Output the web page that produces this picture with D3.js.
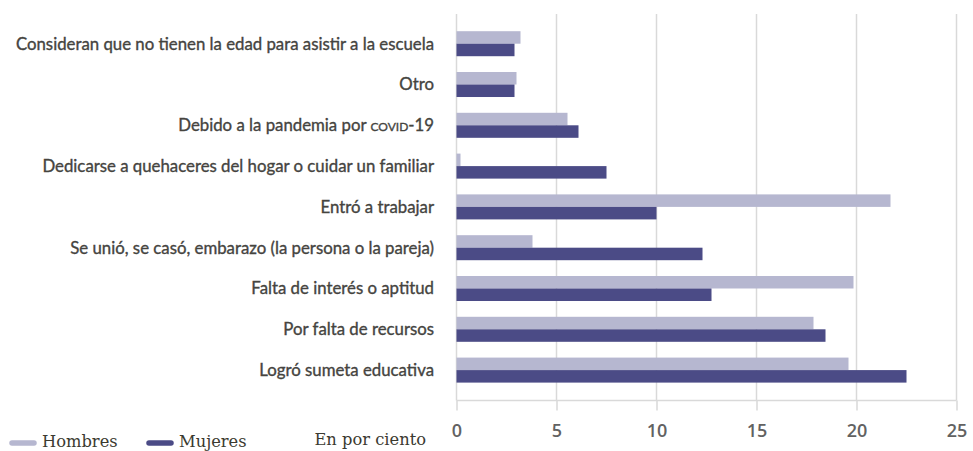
<!DOCTYPE html>
<html>
<head>
<meta charset="utf-8">
<script src="https://cdn.jsdelivr.net/npm/d3@7"></script>
<style>
  body { margin: 0; background: #fff; }
  .cat-label { font-family: Lato, sans-serif; font-size: 16.8px; fill: #45443f; stroke: #45443f; stroke-width: 0.35px; }
  .x.axis text { font-family: "Open Sans", sans-serif; font-size: 18px; font-weight: 600; fill: #626262; }
  .legend text { font-family: "DejaVu Serif", serif; font-size: 16.3px; fill: #3b3a30; }
</style>
</head>
<body>
<div id="chart-area"><svg></svg></div>
<script>
const CHART_SIZE = { width: 973, height: 451 };

const categories = [
  "Consideran que no tienen la edad para asistir a la escuela",
  "Otro",
  "Debido a la pandemia por covid-19",
  "Dedicarse a quehaceres del hogar o cuidar un familiar",
  "Entró a trabajar",
  "Se unió, se casó, embarazo (la persona o la pareja)",
  "Falta de interés o aptitud",
  "Por falta de recursos",
  "Logró sumeta educativa"
];
const hombres = [3.2, 3.0, 5.55, 0.2, 21.7, 3.8, 19.85, 17.85, 19.6];
const mujeres = [2.9, 2.9, 6.1, 7.5, 10.0, 12.3, 12.75, 18.45, 22.5];
const ticks = [0, 5, 10, 15, 20, 25];
const series = ["Hombres", "Mujeres"];
const colors = ["#b6b7d0", "#4b4b86"];

const rows = categories.map((c, i) => ({ name: c, values: [hombres[i], mujeres[i]] }));

const svg = d3.select("#chart-area svg")
  .attr("width", CHART_SIZE.width)
  .attr("height", CHART_SIZE.height);

const x = d3.scaleLinear().domain([0, 25]).range([456.5, 956.5]);
const y = d3.scaleBand().domain(categories).range([31.2, 382.6])
  .paddingInner(0.387).paddingOuter(0);
const ySub = d3.scaleBand().domain(series).range([0, y.bandwidth()]);
const color = d3.scaleOrdinal().domain(series).range(colors);

const GRID_TOP = 14, AXIS_Y = 400.5;

// vertical gridlines
svg.append("g")
  .attr("class", "grid")
  .selectAll("line")
  .data(ticks)
  .join("line")
  .attr("x1", d => x(d)).attr("x2", d => x(d))
  .attr("y1", GRID_TOP).attr("y2", AXIS_Y)
  .attr("stroke", "#d9d9d9")
  .attr("stroke-width", 1.5);

// bars
const groups = svg.append("g")
  .attr("class", "bars")
  .selectAll("g")
  .data(rows)
  .join("g")
  .attr("transform", d => `translate(0,${y(d.name)})`);

groups.selectAll("rect")
  .data(d => d.values.map((v, i) => ({ key: series[i], value: v })))
  .join("rect")
  .attr("x", x(0))
  .attr("y", d => ySub(d.key))
  .attr("width", d => x(d.value) - x(0))
  .attr("height", ySub.bandwidth())
  .attr("fill", d => color(d.key));

// category labels
const labels = svg.append("g")
  .attr("class", "cat-labels")
  .selectAll("text")
  .data(categories)
  .join("text")
  .attr("class", "cat-label")
  .attr("x", 434)
  .attr("y", d => y(d) + y.bandwidth() / 2)
  .attr("dy", "0.35em")
  .attr("text-anchor", "end");

labels.each(function(d) {
  const t = d3.select(this);
  const m = d.match(/^(.*)(covid)(.*)$/);
  if (m) {
    t.append("tspan").text(m[1]);
    t.append("tspan").style("font-variant", "small-caps").text(m[2]);
    t.append("tspan").text(m[3]);
  } else {
    t.text(d);
  }
});

// x axis
const xAxis = d3.axisBottom(x).tickValues(ticks).tickSize(10).tickPadding(14);
svg.append("g")
  .attr("class", "x axis")
  .attr("transform", `translate(0,${AXIS_Y})`)
  .call(xAxis)
  .call(g => g.selectAll("line, path").attr("stroke", "#d9d9d9").attr("stroke-width", 1.5))
  .call(g => g.select(".domain").attr("d", `M${x(0)},0H${x(25)}`));

// legend
const legend = svg.append("g").attr("class", "legend");
const legendPos = [10, 147];
series.forEach((s, i) => {
  legend.append("line")
    .attr("x1", legendPos[i] + 2).attr("x2", legendPos[i] + 24)
    .attr("y1", 443).attr("y2", 443)
    .attr("stroke", color(s))
    .attr("stroke-width", 5.5)
    .attr("stroke-linecap", "round");
  legend.append("text")
    .attr("x", legendPos[i] + 32)
    .attr("y", 447)
    .text(s);
});
legend.append("text")
  .attr("x", 426)
  .attr("y", 445)
  .attr("text-anchor", "end")
  .text("En por ciento");
</script>
</body>
</html>
